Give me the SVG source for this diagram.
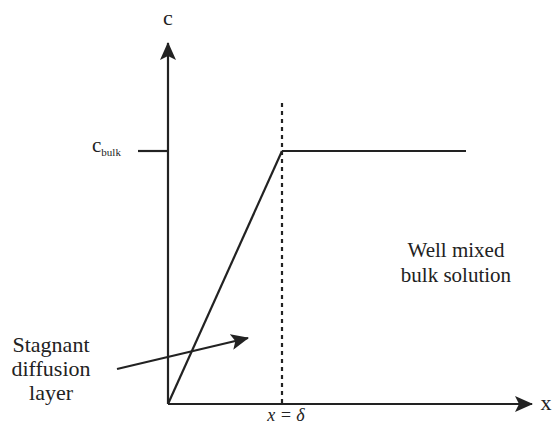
<svg xmlns="http://www.w3.org/2000/svg" width="554" height="429" viewBox="0 0 554 429">
<style>
.ln{stroke:#222;stroke-width:2.2;fill:none}
text{fill:#222;font-family:"Liberation Serif","DejaVu Serif","Times New Roman",serif}
</style>
<defs>
<marker id="big" markerWidth="18" markerHeight="16" refX="17" refY="8" orient="auto" markerUnits="userSpaceOnUse" viewBox="0 0 18 16">
<path d="M0,0 L18,8 L0,16 L4,8 Z" fill="#222"/>
</marker>
</defs>
<g id="connectors">
<line class="ln" x1="168" y1="404" x2="168" y2="43" marker-end="url(#big)"/>
<line class="ln" x1="168" y1="404" x2="532" y2="404" marker-end="url(#big)"/>
<line class="ln" x1="138" y1="151" x2="168" y2="151"/>
<line class="ln" x1="168" y1="404" x2="282" y2="151"/>
<line class="ln" x1="282" y1="151" x2="466" y2="151"/>
<line class="ln" x1="282" y1="103" x2="282" y2="404" stroke-dasharray="4,4"/>
<line class="ln" x1="117" y1="369" x2="248" y2="338" marker-end="url(#big)"/>
</g>
<g id="label-c"><text x="168" y="25" text-anchor="middle" font-size="22">c</text></g>
<g id="label-x"><text x="546" y="410" text-anchor="middle" font-size="22">x</text></g>
<g id="label-cbulk"><text x="92" y="152" font-size="21">c<tspan font-size="11" dy="4">bulk</tspan></text></g>
<g id="label-delta"><text x="286" y="421" text-anchor="middle" font-style="italic" font-size="18">x = δ</text></g>
<g id="label-stagnant"><text font-size="22" x="51" y="352" text-anchor="middle"><tspan x="51">Stagnant</tspan><tspan x="51" dy="24">diffusion</tspan><tspan x="51" dy="24">layer</tspan></text></g>
<g id="label-bulk"><text font-size="21" x="456" y="257" text-anchor="middle"><tspan x="456">Well mixed</tspan><tspan x="456" dy="25">bulk solution</tspan></text></g>
</svg>
